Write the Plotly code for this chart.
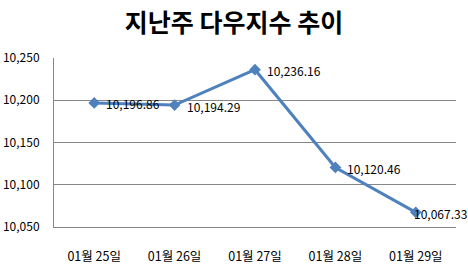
import plotly.graph_objects as go

categories = ["01월 25일", "01월 26일", "01월 27일", "01월 28일", "01월 29일"]
values = [10196.86, 10194.29, 10236.16, 10120.46, 10067.33]
labels = ["10,196.86", "10,194.29", "10,236.16", "10,120.46", "10,067.33"]
title = "지난주 다우지수 추이"

FONT = "Noto Sans CJK KR, sans-serif"

fig = go.Figure()
fig.add_trace(go.Scatter(
    x=categories, y=values, mode="lines+markers",
    line=dict(color="#4F81BD", width=3),
    marker=dict(symbol="diamond", size=9, color="#4F81BD"),
    cliponaxis=False,
))
for i, (c, v, t) in enumerate(zip(categories, values, labels)):
    last = i == len(categories) - 1
    fig.add_annotation(
        x=c, y=v, text=t, showarrow=False,
        xanchor="left", yanchor="middle",
        xshift=-4 if last else 10, yshift=-1,
        font=dict(family=FONT, size=12, color="#000000"),
    )
fig.update_layout(
    width=468, height=268,
    margin=dict(l=54, r=12, t=58, b=41, autoexpand=False),
    paper_bgcolor="white", plot_bgcolor="white",
    showlegend=False,
    title=dict(text="<b>" + title + "</b>", x=0.5, xanchor="center", y=0.915, yanchor="middle",
               font=dict(family=FONT, size=25, color="#000000")),
    font=dict(family=FONT, size=12, color="#000000"),
)
fig.update_xaxes(
    type="category", range=[-0.5, 4.5], showgrid=False, automargin=False,
    showline=True, linecolor="#868686", linewidth=1,
    ticks="", tickfont=dict(size=12.5), ticklabelstandoff=18,
)
fig.update_yaxes(
    range=[10050, 10250], dtick=50, tickformat=",", automargin=False,
    showgrid=True, gridcolor="#868686", gridwidth=1,
    showline=True, linecolor="#868686", linewidth=1,
    ticks="", tickfont=dict(size=12), ticklabelstandoff=11, zeroline=False,
)
fig.write_html("out.html")
